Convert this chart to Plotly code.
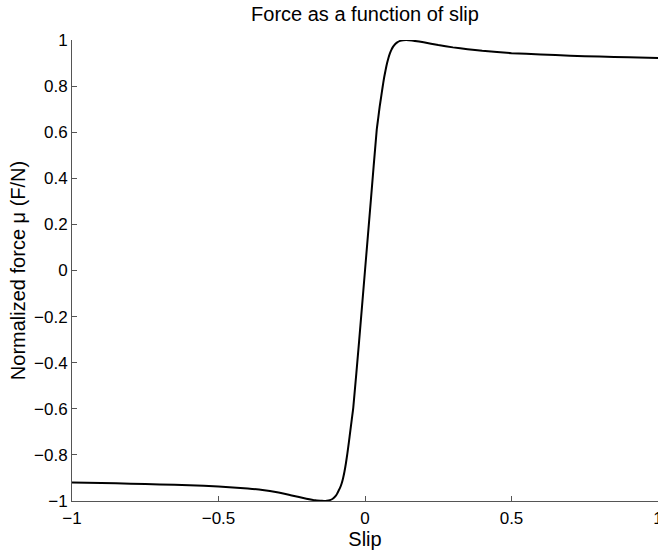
import plotly.graph_objects as go

slip = [-1.0, -0.9, -0.8, -0.7, -0.6, -0.5, -0.4, -0.35, -0.3, -0.25, -0.2, -0.17, -0.15,
        -0.14, -0.13, -0.12, -0.11, -0.1, -0.095, -0.09, -0.085, -0.08, -0.075, -0.07,
        -0.065, -0.06, -0.055, -0.05, -0.045, -0.04, -0.02, 0.0, 0.02, 0.04, 0.045, 0.05,
        0.055, 0.06, 0.065, 0.07, 0.075, 0.08, 0.085, 0.09, 0.095, 0.1, 0.105, 0.11, 0.12,
        0.13, 0.14, 0.15, 0.17, 0.2, 0.25, 0.3, 0.35, 0.4, 0.5, 0.6, 0.7, 0.8, 0.9, 1.0]
force = [-0.920, -0.922, -0.925, -0.928, -0.932, -0.937, -0.946, -0.952, -0.962, -0.976,
         -0.990, -0.997, -0.999, -1.000, -0.999, -0.996, -0.990, -0.978, -0.968, -0.955,
         -0.942, -0.925, -0.902, -0.872, -0.835, -0.792, -0.745, -0.695, -0.645, -0.595,
         -0.305, 0.000, 0.305, 0.610, 0.660, 0.710, 0.752, 0.795, 0.835, 0.868, 0.898,
         0.922, 0.942, 0.957, 0.969, 0.978, 0.985, 0.990, 0.996, 0.999, 1.000, 0.999,
         0.996, 0.990, 0.978, 0.968, 0.960, 0.953, 0.943, 0.937, 0.932, 0.928, 0.925, 0.922]

x_ticks = [-1, -0.5, 0, 0.5, 1]
y_ticks = [-1, -0.8, -0.6, -0.4, -0.2, 0, 0.2, 0.4, 0.6, 0.8, 1]

FONT = "Liberation Sans, Arial, Helvetica, sans-serif"
FS_TICK = 17
FS_TITLE = 20

fig = go.Figure()
fig.add_trace(go.Scatter(x=slip, y=force, mode="lines",
                         line=dict(color="black", width=2, shape="spline", smoothing=0.5),
                         showlegend=False))

fig.update_layout(
    width=658, height=550,
    margin=dict(l=72, r=0, t=40, b=49),
    paper_bgcolor="white", plot_bgcolor="white",
    font=dict(family=FONT, size=FS_TICK, color="black"),
    title=dict(text="Force as a function of slip", x=(72 + 658) / 2 / 658, xanchor="center",
               y=1 - 14 / 550, yanchor="middle", font=dict(size=FS_TITLE)),
)
fig.update_xaxes(range=[-1, 1], tickvals=x_ticks, ticks="inside", ticklen=5,
                 tickcolor="#555", showline=True, linecolor="#555", linewidth=1,
                 showgrid=False, zeroline=False, automargin=False,
                 title=dict(text="Slip", standoff=1, font=dict(size=FS_TITLE)),
                 tickfont=dict(size=FS_TICK), ticklabeloverflow="allow",
                 ticklabelstandoff=2)
fig.update_yaxes(range=[-1, 1], tickvals=y_ticks, ticks="inside", ticklen=5,
                 tickcolor="#555", showline=True, linecolor="#555", linewidth=1,
                 showgrid=False, zeroline=False, automargin=False,
                 title=dict(text="Normalized force μ (F/N)", standoff=3,
                            font=dict(size=FS_TITLE)),
                 tickfont=dict(size=FS_TICK), ticklabelstandoff=0)

fig.write_html("out.html")
